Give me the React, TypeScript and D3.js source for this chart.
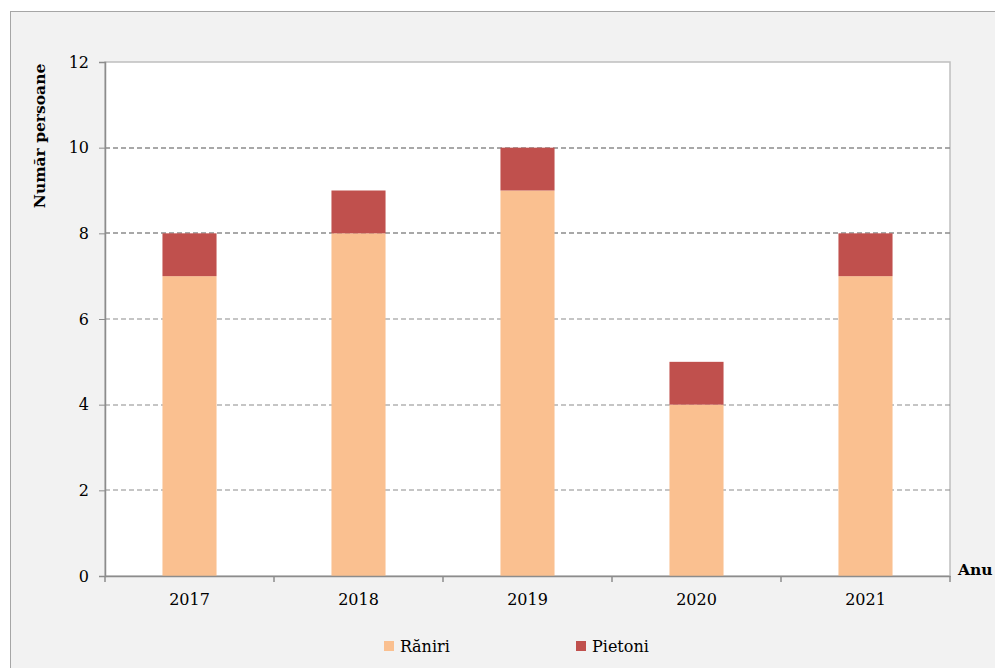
import { useEffect, useRef } from 'react';
import * as d3 from 'd3';

const years = ['2017', '2018', '2019', '2020', '2021'];
const raniri = [7, 8, 9, 4, 7];
const pietoni = [1, 1, 1, 1, 1];
const yTicks = [0, 2, 4, 6, 8, 10, 12];
const seriesNames = ['Răniri', 'Pietoni'];
const seriesColors = ['#FAC090', '#C0504D'];

export default function App() {
  const ref = useRef<SVGSVGElement>(null);

  useEffect(() => {
    if (!ref.current) return;
    const svg = d3.select(ref.current);
    svg.selectAll('*').remove();

    const width = 995;
    const height = 668;
    const font = '"DejaVu Serif", serif';
    const plot = { left: 105, right: 950, top: 62, bottom: 576 };

    // fondo y marco exterior
    svg.append('rect').attr('width', width).attr('height', height).attr('fill', '#ffffff');
    svg.append('rect')
      .attr('x', 10.5).attr('y', 11.5)
      .attr('width', width + 10).attr('height', height + 10)
      .attr('fill', '#f2f2f2')
      .attr('stroke', '#a6a6a6')
      .attr('stroke-width', 1);

    // area del grafico
    svg.append('rect')
      .attr('x', plot.left).attr('y', plot.top)
      .attr('width', plot.right - plot.left).attr('height', plot.bottom - plot.top)
      .attr('fill', '#ffffff')
      .attr('stroke', '#bfbfbf')
      .attr('stroke-width', 1.5);

    const x = d3.scaleBand().domain(years).range([plot.left, plot.right]).paddingInner(0).paddingOuter(0);
    const y = d3.scaleLinear().domain([0, 12]).range([plot.bottom, plot.top]);

    // lineas de grilla
    svg.append('g')
      .selectAll('line')
      .data(yTicks.filter(t => t > 0 && t < 12))
      .enter()
      .append('line')
      .attr('x1', plot.left).attr('x2', plot.right)
      .attr('y1', d => Math.round(y(d))).attr('y2', d => Math.round(y(d)))
      .attr('stroke', '#8c8c8c')
      .attr('stroke-width', d => (d >= 8 ? 1.6 : 1.1))
      .attr('stroke-dasharray', '5,3');

    // barras apiladas
    const stackData = years.map((yr, i) => ({ year: yr, raniri: raniri[i], pietoni: pietoni[i] }));
    const stack = d3.stack<any>().keys(['raniri', 'pietoni'])(stackData);
    const barW = x.bandwidth() * 0.32;

    stack.forEach((layer, li) => {
      svg.append('g')
        .selectAll('rect')
        .data(layer)
        .enter()
        .append('rect')
        .attr('x', d => x(d.data.year)! + x.bandwidth() / 2 - barW / 2)
        .attr('y', d => y(d[1]))
        .attr('width', barW)
        .attr('height', d => y(d[0]) - y(d[1]))
        .attr('fill', seriesColors[li]);
    });

    // eje Y
    const yAxis = svg.append('g')
      .attr('transform', `translate(${plot.left},0)`)
      .call(d3.axisLeft(y).tickValues(yTicks).tickSize(6).tickPadding(10));
    yAxis.select('.domain').attr('stroke', '#8c8c8c').attr('stroke-width', 1.5);
    yAxis.selectAll('.tick line').attr('stroke', '#8c8c8c');
    yAxis.selectAll('text').style('font-size', '16px').style('font-family', font).attr('fill', '#000');

    // eje X
    const xAxis = svg.append('g')
      .attr('transform', `translate(0,${plot.bottom})`)
      .call(d3.axisBottom(x).tickSize(0).tickPadding(18));
    xAxis.select('.domain').attr('stroke', '#8c8c8c').attr('stroke-width', 1.5);
    xAxis.selectAll('text').style('font-size', '16px').style('font-family', font).attr('fill', '#000');

    // marcas entre categorias
    const bounds = years.map(yr => x(yr)!).concat([plot.right]);
    svg.append('g')
      .selectAll('line')
      .data(bounds)
      .enter()
      .append('line')
      .attr('x1', d => d).attr('x2', d => d)
      .attr('y1', plot.bottom).attr('y2', plot.bottom + 6)
      .attr('stroke', '#8c8c8c')
      .attr('stroke-width', 1.5);

    // titulos de ejes
    svg.append('text')
      .attr('transform', `translate(45,136) rotate(-90)`)
      .attr('text-anchor', 'middle')
      .style('font-family', font)
      .style('font-size', '15.5px')
      .style('font-weight', 'bold')
      .text('Număr persoane');

    svg.append('text')
      .attr('x', 958).attr('y', 575)
      .style('font-family', font)
      .style('font-size', '15.5px')
      .style('font-weight', 'bold')
      .text('Anu');

    // leyenda
    const legendX = [384, 576];
    seriesNames.forEach((name, i) => {
      const g = svg.append('g').attr('transform', `translate(${legendX[i]},641)`);
      g.append('rect').attr('width', 10).attr('height', 10).attr('fill', seriesColors[i]);
      g.append('text')
        .attr('x', 16).attr('y', 11)
        .style('font-family', font)
        .style('font-size', '16px')
        .text(name);
    });
  }, []);

  return <svg ref={ref} width={995} height={668} style={{ display: 'block', position: 'absolute', left: 0, top: 0 }} />;
}
